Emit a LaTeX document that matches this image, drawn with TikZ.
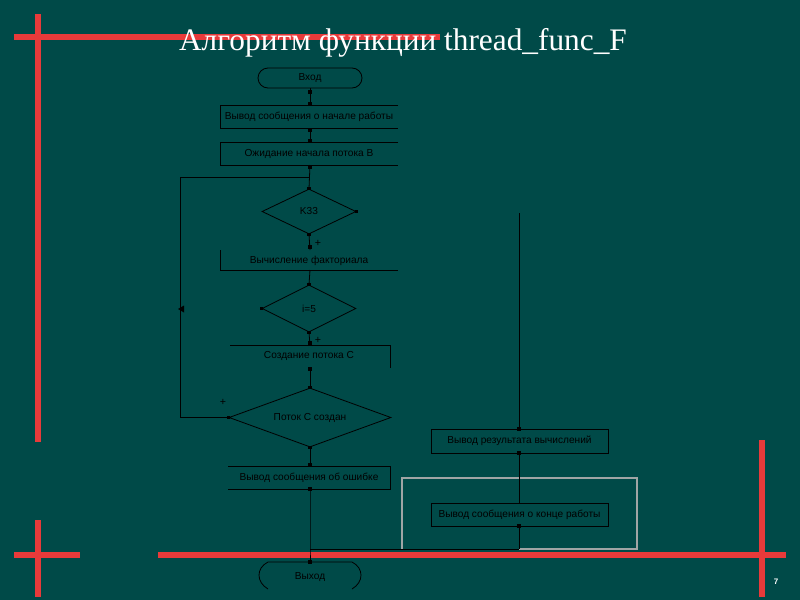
\documentclass[tikz,border=0pt]{standalone}
\usepackage{fontspec}
\setmainfont{Liberation Serif}
\newfontfamily\flowfont{Liberation Sans}
\usetikzlibrary{shapes.geometric}
\definecolor{bgteal}{RGB}{0,74,72}
\definecolor{redline}{RGB}{232,58,58}
\definecolor{grayline}{RGB}{160,165,165}
\tikzset{
  flow/.style={draw=black, line width=0.6pt},
  boxtext/.style={font=\flowfont\fontsize{7.6}{8}\selectfont, text=black, inner sep=0pt},
  dia/.style={diamond, draw=black, line width=0.6pt, inner sep=0pt, aspect=1},
  red/.style={draw=redline, line width=3.8pt},
  plus/.style={font=\flowfont\fontsize{8}{8}\selectfont, text=black, inner sep=0pt},
}
\newcommand{\jd}[1]{\fill[black] (#1) ++(-1.6,-1.6) rectangle ++(3.2,3.2);}
\begin{document}
\begin{tikzpicture}[x=0.75pt,y=-0.75pt]
\fill[bgteal] (0,0) rectangle (800,600);
\useasboundingbox (0,0) rectangle (800,600);

% red decorations
\draw[red] (14,37) -- (440,37);
\draw[red] (38,14) -- (38,442);
\draw[red] (38,520) -- (38,597);
\draw[red] (14,555) -- (80,555);
\draw[red] (158,555) -- (786,555);
\draw[red] (762,440) -- (762,597);

% title
\node[text=white, font=\fontsize{23.5}{25}\selectfont, anchor=base] (title) at (403,50) {Алгоритм функции thread\_func\_F};
\node[text=white, font=\flowfont\bfseries\fontsize{6}{6}\selectfont] (pnum) at (776,582) {7};

% --- diamonds (outlines) ---
\node[dia, minimum width=70.5pt, minimum height=33.75pt] (d1) at (309,211.5) {};
\node[dia, minimum width=70.5pt, minimum height=35.25pt] (d2) at (309,308.5) {};
\node[dia, minimum width=121.5pt, minimum height=44.25pt] (d3) at (310,417.5) {};

% --- texts ---
\node[boxtext] (start) at (310,78) {Вход};
\node[boxtext] (b1) at (309,117) {Вывод сообщения о начале работы};
\node[boxtext] (b2) at (309,153.5) {Ожидание начала потока В};
\node[boxtext] (d1t) at (d1.center) {K33};
\node[boxtext] (b3) at (309,261) {Вычисление факториала};
\node[boxtext] (d2t) at (d2.center) {i=5};
\node[boxtext] (b4) at (309,356) {Создание потока С};
\node[boxtext] (d3t) at (d3.center) {Поток С создан};
\node[boxtext] (b5) at (309,477.5) {Вывод сообщения об ошибке};
\node[boxtext] (b6) at (519.5,441) {Вывод результата вычислений};
\node[boxtext] (b7) at (519.5,514.5) {Вывод сообщения о конце работы};
\node[boxtext] (stop) at (310,577) {Выход};

% coordinates for partial boxes
\coordinate (b1tl) at (220,105); \coordinate (b1tr) at (398,105);
\coordinate (b1bl) at (220,128); \coordinate (b1br) at (398,128);
\coordinate (b2tl) at (220,142); \coordinate (b2tr) at (398,142);
\coordinate (b2bl) at (220,165); \coordinate (b2br) at (398,165);
\coordinate (b3tl) at (220,250); \coordinate (b3bl) at (220,270); \coordinate (b3br) at (398,270);
\coordinate (b4tl) at (230,345); \coordinate (b4tr) at (390,345); \coordinate (b4br) at (390,368);
\coordinate (b5tl) at (228,466); \coordinate (b5tr) at (390,466);
\coordinate (b5br) at (390,489); \coordinate (b5bl) at (228,489);
\coordinate (b6tl) at (431,429); \coordinate (b6br) at (608,453);
\coordinate (b7tl) at (431,503); \coordinate (b7br) at (608,526);

% outlines
\draw[flow, rounded corners=7.5pt] (258,68) rectangle (362,88);
\draw[flow] (b1tr) -- (b1tl) -- (b1bl) -- (b1br);
\draw[flow] (b2tr) -- (b2tl) -- (b2bl) -- (b2br);
\draw[flow] (b3tl) -- (b3bl) -- (b3br);
\draw[flow] (b4tl) -- (b4tr) -- (b4br);
\draw[flow] (b5tl) -- (b5tr) -- (b5br) -- (b5bl);
\draw[flow] (b6tl) rectangle (b6br);
\draw[flow] (b7tl) rectangle (b7br);
\draw[flow] (268,589) .. controls (256,582) and (256,568) .. (268,562) -- (352,562) .. controls (364,568) and (364,582) .. (352,589);

% gray frame
\draw[grayline, line width=0.9pt] (519,549) -- (637,549) -- (637,478) -- (402,478) -- (402,549);

% --- connectors ---
\coordinate (j1) at (310,177);
\coordinate (lt) at (180,177);
\coordinate (lb) at (180,417.5);
\coordinate (ja) at (310,549);
\coordinate (jb) at (519,549);
\coordinate (rt) at (519,213);

\draw[flow] (310,88) -- (310,105);
\draw[flow] (310,128) -- (310,142);
\draw[flow] (310,165) -- (d1.north);
\draw[flow] (lt) -- (j1);
\draw[flow] (d3.west) -- (lb) -- (lt);
\draw[flow] (d1.south) -- (310,250);
\draw[flow] (310,270) -- (d2.north);
\draw[flow] (d2.south) -- (310,345);
\draw[flow] (310,368) -- (d3.north);
\draw[flow] (d3.south) -- (310,466);
\draw[flow] (310,489) -- (ja) -- (310,562);
\draw[flow] (ja) -- (jb);
\draw[flow] (rt) -- (519,429);
\draw[flow] (519,453) -- (519,503);
\draw[flow] (519,526) -- (jb);
\fill[black] (178,309) -- (184,305.5) -- (184,312.5) -- cycle;

% junction dots
\jd{310,92}\jd{310,104}\jd{310,130}\jd{310,141}\jd{310,167}\jd{d1.north}
\jd{d1.south}\jd{310,247}\jd{d1.east}
\jd{d2.north}\jd{d2.west}\jd{d2.south}\jd{310,343}
\jd{310,369}\jd{d3.north}\jd{d3.west}
\jd{d3.south}\jd{310,465}\jd{310,489}\jd{310,562}
\jd{519,429}\jd{519,453}\jd{519,526}

% plus labels
\node[plus] (p1) at (318,243) {+};
\node[plus] (p2) at (318,340) {+};
\node[plus] (p3) at (223,402) {+};
\end{tikzpicture}
\end{document}
